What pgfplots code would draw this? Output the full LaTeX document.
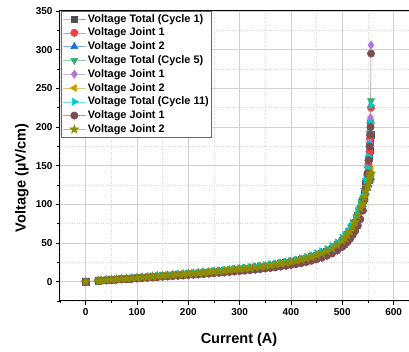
\documentclass[border=0pt]{standalone}
\usepackage{fontspec}
\setmainfont{Liberation Sans}
\usepackage{pgfplots}
\usepackage{pgfplotstable}
\pgfplotsset{compat=1.18}
\definecolor{cA}{HTML}{515151}
\definecolor{cB}{HTML}{F14040}
\definecolor{cC}{HTML}{1A6FDF}
\definecolor{cD}{HTML}{37AD6B}
\definecolor{cE}{HTML}{B177DE}
\definecolor{cF}{HTML}{CC9900}
\definecolor{cG}{HTML}{00CBCC}
\definecolor{cH}{HTML}{7D4E4E}
\definecolor{cI}{HTML}{8E8E00}
\pgfdeclareplotmark{fstar}{%
 \pgfpathmoveto{\pgfpointpolar{90}{1.25\pgfplotmarksize}}%
 \pgfpathlineto{\pgfpointpolar{126}{0.5\pgfplotmarksize}}%
 \pgfpathlineto{\pgfpointpolar{162}{1.25\pgfplotmarksize}}%
 \pgfpathlineto{\pgfpointpolar{198}{0.5\pgfplotmarksize}}%
 \pgfpathlineto{\pgfpointpolar{234}{1.25\pgfplotmarksize}}%
 \pgfpathlineto{\pgfpointpolar{270}{0.5\pgfplotmarksize}}%
 \pgfpathlineto{\pgfpointpolar{306}{1.25\pgfplotmarksize}}%
 \pgfpathlineto{\pgfpointpolar{342}{0.5\pgfplotmarksize}}%
 \pgfpathlineto{\pgfpointpolar{18}{1.25\pgfplotmarksize}}%
 \pgfpathlineto{\pgfpointpolar{54}{0.5\pgfplotmarksize}}%
 \pgfpathclose
 \pgfusepathqfillstroke}
\pgfplotstableread{
I s1 s2 s3 s4 s5 s6 s7 s8 s9
0 0 0 0 0 0 0 0 0 0
25 1.2 1.0 1.2 1.2 1.0 1.2 1.3 1.0 1.2
30 1.5 1.3 1.5 1.5 1.3 1.5 1.6 1.3 1.5
40 2.1 1.8 2.1 2.1 1.8 2.1 2.2 1.8 2.1
50 2.6 2.2 2.6 2.6 2.2 2.6 2.8 2.2 2.6
60 3.1 2.6 3.1 3.1 2.6 3.1 3.3 2.6 3.1
70 3.6 3.1 3.6 3.6 3.1 3.6 3.9 3.1 3.6
80 4.0 3.4 4.0 4.0 3.4 4.0 4.3 3.4 4.0
90 4.5 3.8 4.5 4.5 3.8 4.5 4.8 3.8 4.5
100 5.0 4.3 5.0 5.0 4.3 5.0 5.4 4.3 5.0
110 5.5 4.7 5.5 5.5 4.7 5.5 5.9 4.7 5.5
120 6.0 5.1 6.0 6.0 5.1 6.0 6.4 5.1 6.0
130 6.6 5.6 6.6 6.6 5.6 6.6 7.1 5.6 6.6
140 7.1 6.0 7.1 7.1 6.0 7.1 7.6 6.0 7.1
150 7.6 6.5 7.6 7.6 6.5 7.6 8.1 6.5 7.6
160 8.1 6.9 8.1 8.1 6.9 8.1 8.7 6.9 8.1
170 8.6 7.3 8.6 8.6 7.3 8.6 9.2 7.3 8.6
180 9.1 7.7 9.1 9.1 7.7 9.1 9.7 7.7 9.1
190 9.6 8.2 9.6 9.6 8.2 9.6 10.3 8.2 9.6
200 10.2 8.7 10.2 10.2 8.7 10.2 10.9 8.7 10.2
210 10.7 9.1 10.7 10.7 9.1 10.7 11.4 9.1 10.7
220 11.2 9.5 11.2 11.2 9.5 11.2 12.0 9.5 11.2
230 11.8 10.0 11.8 11.8 10.0 11.8 12.6 10.0 11.8
240 12.4 10.5 12.4 12.4 10.5 12.4 13.3 10.5 12.4
250 13.0 11.1 13.0 13.0 11.1 13.0 13.9 11.1 13.0
260 13.6 11.6 13.6 13.6 11.6 13.6 14.6 11.6 13.6
270 14.2 12.1 14.2 14.2 12.1 14.2 15.2 12.1 14.2
280 14.9 12.7 14.9 14.9 12.7 14.9 15.9 12.7 14.9
290 15.6 13.3 15.6 15.6 13.3 15.6 16.7 13.3 15.6
300 16.3 13.9 16.3 16.3 13.9 16.3 17.4 13.9 16.3
310 17.0 14.5 17.0 17.0 14.5 17.0 18.2 14.5 17.0
320 17.7 15.0 17.7 17.7 15.0 17.7 18.9 15.0 17.7
330 18.5 15.7 18.5 18.5 15.7 18.5 19.8 15.7 18.5
340 19.3 16.4 19.3 19.3 16.4 19.3 20.7 16.4 19.3
350 20.2 17.2 20.2 20.2 17.2 20.2 21.6 17.2 20.2
360 21.1 17.9 21.1 21.1 17.9 21.1 22.6 17.9 21.1
370 22.1 18.8 22.1 22.1 18.8 22.1 23.6 18.8 22.1
380 23.2 19.7 23.2 23.2 19.7 23.2 24.8 19.7 23.2
390 24.3 20.7 24.3 24.3 20.7 24.3 26.0 20.7 24.3
400 25.5 21.7 25.5 25.5 21.7 25.5 27.3 21.7 25.5
410 26.9 22.9 26.9 26.9 22.9 26.9 28.8 22.9 26.9
420 28.4 24.1 28.4 28.4 24.1 28.4 30.4 24.1 28.4
430 30.1 25.6 30.1 30.1 25.6 30.1 32.2 25.6 30.1
440 32.0 27.2 32.0 32.0 27.2 32.0 34.2 27.2 32.0
450 34.2 29.1 34.2 34.2 29.1 34.2 36.6 29.1 34.2
460 36.7 31.2 36.7 36.7 31.2 36.7 39.3 31.2 36.7
470 39.6 33.7 39.6 39.6 33.7 39.6 42.4 33.7 39.6
480 43.0 36.6 43.0 43.0 36.6 43.0 46.0 36.6 43.0
490 47.5 40.4 47.5 47.5 40.4 47.5 50.8 40.4 47.5
500 53.0 45.1 53.0 53.0 45.1 53.0 56.7 45.1 53.0
505 56.5 48.0 56.5 56.5 48.0 56.5 60.5 48.0 56.5
510 60.5 51.4 60.5 60.5 51.4 60.5 64.7 51.4 60.5
515 65.0 55.3 65.0 65.0 55.3 65.0 69.6 55.3 65.0
520 71.0 60.4 71.0 71.0 60.4 71.0 76.0 60.4 71.0
525 77.0 65.5 77.0 77.0 65.5 77.0 82.4 65.5 77.0
530 85.0 72.3 85.0 85.0 72.3 85.0 91.0 72.3 85.0
535 95.0 80.8 95.0 95.0 80.8 95.0 101.7 80.8 95.0
540 105 92 100 106 92 102 110 92 101
543 116 106 108 118 106 111 120 106 109
546 127 121 115 131 122 119 132 122 117
549 138 138 121 146 140 126 147 140 123
551 148 152 125 160 158 131 162 157 128
553 160 168 129 178 180 136 178 175 133
554 170 185 131 192 197 139 192 190 136
555 180 205 133 207 212 142 205 200 138
556 190 225 135 234 306 145 228 295 140
}\data
\begin{document}
\begin{tikzpicture}
\begin{axis}[
  scale only axis, width=349pt, height=290pt,
  xmin=-50, xmax=630, ymin=-25, ymax=350,
  xtick={0,100,...,600}, minor xtick={-50,50,150,...,650},
  ytick={0,50,...,350}, minor ytick={-25,25,75,...,325},
  xtick pos=bottom, ytick pos=left, tick align=outside,
  major tick length=4pt, minor tick length=2.5pt,
  every tick/.style={black, line width=0.8pt},
  axis line style={line width=1pt},
  grid=both,
  major grid style={color=black!18, line width=0.6pt},
  minor grid style={color=black!15, dotted, line width=0.5pt},
  /pgf/number format/assume math mode=true,
  tick label style={font=\bfseries\fontsize{10}{12}\selectfont},
  xlabel={Current (A)}, ylabel={Voltage (µV/cm)},
  label style={font=\bfseries\fontsize{14.5}{16}\selectfont},
  x label style={at={(axis description cs:0.513,-0.135)}, anchor=center},
  y label style={at={(axis description cs:-0.109,0.424)}, anchor=center},
  legend style={at={(axis description cs:0.004,1)}, anchor=north west,
    draw=black!60, line width=0.6pt, inner sep=1pt, row sep=0.4pt,
    font=\bfseries\fontsize{10.9}{12}\selectfont, fill=white},
  legend cell align=left,
  legend image code/.code={\draw[mark repeat=2,mark phase=2] plot coordinates {(0cm,0cm) (0.4cm,0cm) (0.8cm,0cm)};},
]
\addplot[draw=cA!55!white, line width=0.5pt, mark=square*, mark size=3.2pt, mark options={fill=cA, draw=cA, solid}] table[x=I,y=s1]{\data};
\addlegendentry{Voltage Total (Cycle 1)}
\addplot[draw=cB!55!white, line width=0.5pt, mark=*, mark size=3.7pt, mark options={fill=cB, draw=cB, solid}] table[x=I,y=s2]{\data};
\addlegendentry{Voltage Joint 1}
\addplot[draw=cC!55!white, line width=0.5pt, mark=triangle*, mark size=4.1pt, mark options={fill=cC, draw=cC, solid}] table[x=I,y=s3]{\data};
\addlegendentry{Voltage Joint 2}
\addplot[draw=cD!55!white, line width=0.5pt, mark=triangle*, mark size=4.1pt, mark options={fill=cD, draw=cD, solid, rotate=180}] table[x=I,y=s4]{\data};
\addlegendentry{Voltage Total (Cycle 5)}
\addplot[draw=cE!55!white, line width=0.5pt, mark=diamond*, mark size=4.1pt, mark options={fill=cE, draw=cE, solid}] table[x=I,y=s5]{\data};
\addlegendentry{Voltage Joint 1}
\addplot[draw=cF!55!white, line width=0.5pt, mark=triangle*, mark size=4.1pt, mark options={fill=cF, draw=cF, solid, rotate=90}] table[x=I,y=s6]{\data};
\addlegendentry{Voltage Joint 2}
\addplot[draw=cG!55!white, line width=0.5pt, mark=triangle*, mark size=4.1pt, mark options={fill=cG, draw=cG, solid, rotate=-90}] table[x=I,y=s7]{\data};
\addlegendentry{Voltage Total (Cycle 11)}
\addplot[draw=cH!55!white, line width=0.5pt, mark=*, mark size=3.7pt, mark options={fill=cH, draw=cH, solid}] table[x=I,y=s8]{\data};
\addlegendentry{Voltage Joint 1}
\addplot[draw=cI!55!white, line width=0.5pt, mark=fstar, mark size=3.6pt, mark options={fill=cI, draw=cI, solid}] table[x=I,y=s9]{\data};
\addlegendentry{Voltage Joint 2}
\end{axis}
\pgfresetboundingbox
\useasboundingbox (-60pt,-51pt) rectangle (349pt,301pt);
\end{tikzpicture}
\end{document}
